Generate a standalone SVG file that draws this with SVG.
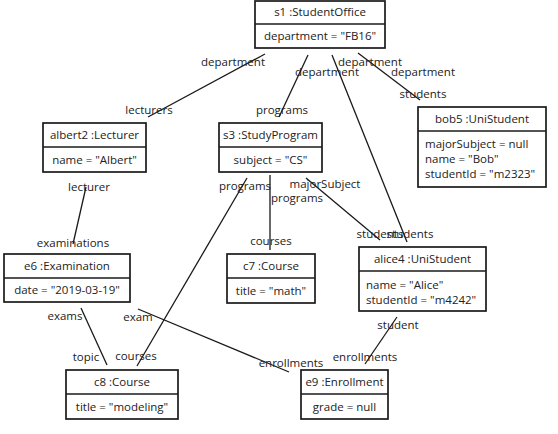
<svg xmlns="http://www.w3.org/2000/svg" width="558" height="434" viewBox="0 0 558 434">
<style>
  .box { fill: #ffffff; stroke: #1a1a1a; stroke-width: 1.7; }
  .div { stroke: #1a1a1a; stroke-width: 1.7; }
  .con { stroke: #1a1a1a; stroke-width: 1.3; fill: none; }
  text { font-family: "Open Sans", "DejaVu Sans", sans-serif; font-size: 11.5px; fill: #222222; }
  .c { text-anchor: middle; }
</style>
<rect x="0" y="0" width="558" height="434" fill="#ffffff"/>

<g id="connectors">
  <line class="con" x1="265" y1="54" x2="148" y2="117"/>
  <line class="con" x1="308" y1="55" x2="279" y2="117"/>
  <line class="con" x1="332" y1="55" x2="407" y2="242"/>
  <line class="con" x1="358" y1="53" x2="420" y2="100"/>
  <line class="con" x1="86" y1="187" x2="73" y2="244"/>
  <line class="con" x1="247" y1="178" x2="137" y2="366"/>
  <line class="con" x1="270" y1="175" x2="270" y2="250"/>
  <line class="con" x1="306" y1="178" x2="380" y2="240"/>
  <line class="con" x1="81" y1="308" x2="107" y2="365"/>
  <line class="con" x1="138" y1="309" x2="289" y2="372"/>
  <line class="con" x1="397" y1="317" x2="365" y2="364"/>
</g>

<g id="labels">
  <text class="c" x="233" y="66">department</text>
  <text class="c" x="149" y="114">lecturers</text>
  <text class="c" x="327" y="76">department</text>
  <text class="c" x="282" y="114">programs</text>
  <text class="c" x="370" y="66">department</text>
  <text class="c" x="423" y="76">department</text>
  <text class="c" x="423" y="98">students</text>
  <text class="c" x="89" y="191">lecturer</text>
  <text class="c" x="73" y="247">examinations</text>
  <text class="c" x="245" y="190">programs</text>
  <text class="c" x="136" y="360">courses</text>
  <text class="c" x="297" y="202">programs</text>
  <text class="c" x="271" y="245">courses</text>
  <text class="c" x="325" y="188">majorSubject</text>
  <text class="c" x="380" y="238">students</text>
  <text class="c" x="410" y="238">students</text>
  <text class="c" x="65" y="320">exams</text>
  <text class="c" x="86" y="361">topic</text>
  <text class="c" x="138" y="321">exam</text>
  <text class="c" x="291" y="367">enrollments</text>
  <text class="c" x="398" y="329">student</text>
  <text class="c" x="365" y="361">enrollments</text>
</g>

<g id="s1">
  <rect class="box" x="255" y="1" width="130" height="47"/>
  <line class="div" x1="255" y1="24" x2="385" y2="24"/>
  <text class="c" x="320" y="16">s1 :StudentOffice</text>
  <text class="c" x="320" y="40">department = "FB16"</text>
</g>

<g id="albert2">
  <rect class="box" x="43" y="123" width="103" height="49"/>
  <line class="div" x1="43" y1="147" x2="146" y2="147"/>
  <text class="c" x="94.5" y="139">albert2 :Lecturer</text>
  <text class="c" x="94.5" y="164">name = "Albert"</text>
</g>

<g id="s3">
  <rect class="box" x="219" y="123" width="103" height="49"/>
  <line class="div" x1="219" y1="147" x2="322" y2="147"/>
  <text class="c" x="270.5" y="139">s3 :StudyProgram</text>
  <text class="c" x="270.5" y="164">subject = "CS"</text>
</g>

<g id="bob5">
  <rect class="box" x="418" y="107" width="128" height="80"/>
  <line class="div" x1="418" y1="131" x2="546" y2="131"/>
  <text class="c" x="482" y="123">bob5 :UniStudent</text>
  <text x="425" y="148">majorSubject = null</text>
  <text x="425" y="163">name = "Bob"</text>
  <text x="425" y="178">studentId = "m2323"</text>
</g>

<g id="c7">
  <rect class="box" x="227" y="254" width="88" height="49"/>
  <line class="div" x1="227" y1="278" x2="315" y2="278"/>
  <text class="c" x="271" y="270">c7 :Course</text>
  <text class="c" x="271" y="295">title = "math"</text>
</g>

<g id="alice4">
  <rect class="box" x="359" y="247" width="127" height="64"/>
  <line class="div" x1="359" y1="271" x2="486" y2="271"/>
  <text class="c" x="422.5" y="263">alice4 :UniStudent</text>
  <text x="366" y="289">name = "Alice"</text>
  <text x="366" y="304">studentId = "m4242"</text>
</g>

<g id="e6">
  <rect class="box" x="4" y="254" width="126" height="48"/>
  <line class="div" x1="4" y1="278" x2="130" y2="278"/>
  <text class="c" x="67" y="270">e6 :Examination</text>
  <text class="c" x="67" y="294">date = "2019-03-19"</text>
</g>

<g id="c8">
  <rect class="box" x="66" y="370" width="112" height="49"/>
  <line class="div" x1="66" y1="394" x2="178" y2="394"/>
  <text class="c" x="122" y="386">c8 :Course</text>
  <text class="c" x="122" y="411">title = "modeling"</text>
</g>

<g id="e9">
  <rect class="box" x="301" y="370" width="87" height="49"/>
  <line class="div" x1="301" y1="394" x2="388" y2="394"/>
  <text class="c" x="344.5" y="386">e9 :Enrollment</text>
  <text class="c" x="344.5" y="411">grade = null</text>
</g>
</svg>
